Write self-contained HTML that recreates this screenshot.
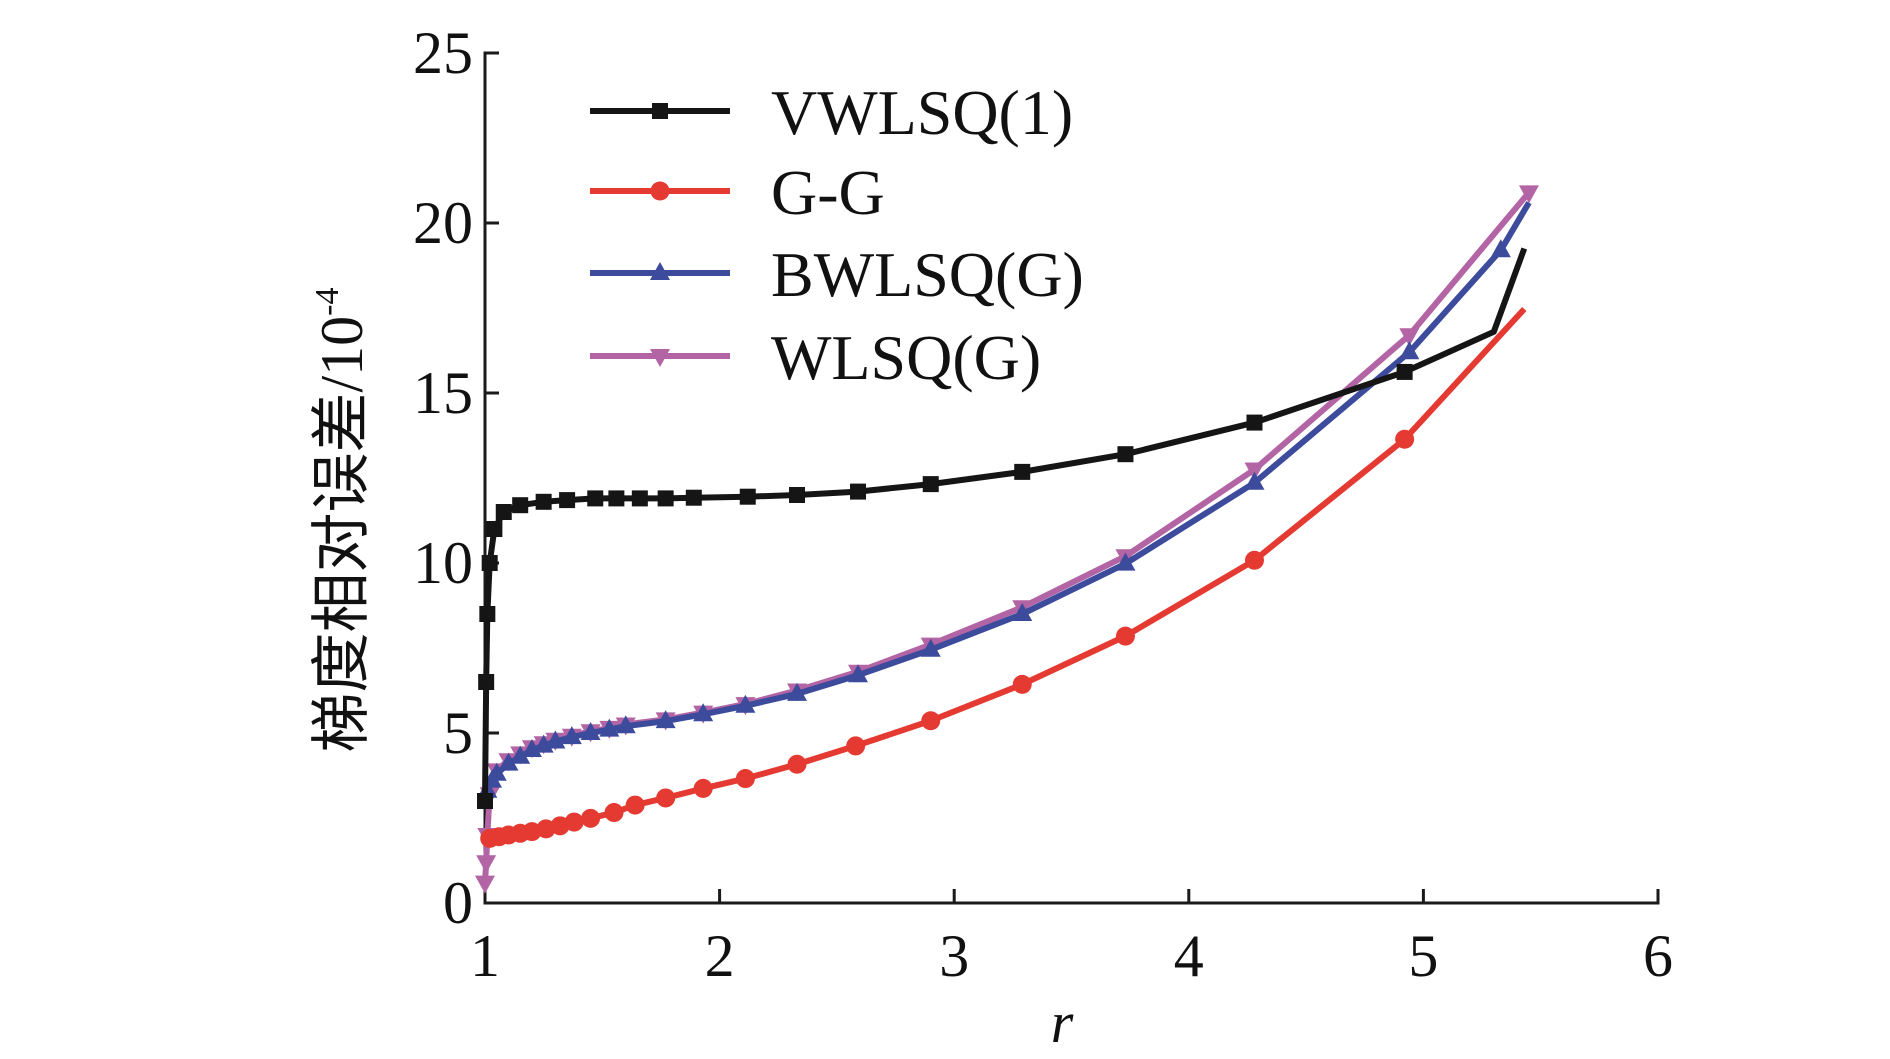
<!DOCTYPE html>
<html><head><meta charset="utf-8"><style>
html,body{margin:0;padding:0;background:#fff;}
svg{display:block;}
text{font-family:"Liberation Serif","Noto Serif CJK SC",serif;fill:#111;}
</style></head><body>
<svg id="chart" width="1890" height="1059" viewBox="0 0 1890 1059" xmlns="http://www.w3.org/2000/svg">
<g id="axes"></g>
<g id="series"></g>
<g id="legend"></g>
<text transform="translate(362,520) rotate(-90)" text-anchor="middle" font-size="60" style="font-family:'Liberation Serif','Noto Sans CJK SC',sans-serif">梯度相对误差/10<tspan dy="-24" font-size="34">-4</tspan></text>
<text x="1062" y="1042" text-anchor="middle" font-size="58" font-style="italic">r</text>
</svg>
<script>
const xTicks=[1,2,3,4,5,6];
const yTicks=[0,5,10,15,20,25];
const seriesNames=["VWLSQ(1)","G-G","BWLSQ(G)","WLSQ(G)"];
const vwX=[1.0,1.005,1.01,1.02,1.04,1.08,1.15,1.25,1.35,1.47,1.56,1.66,1.77,1.89,2.12,2.33,2.59,2.90,3.29,3.73,4.28,4.92,5.30,5.43];
const vwY=[3.0,6.5,8.5,10.0,11.0,11.5,11.7,11.8,11.85,11.9,11.9,11.9,11.9,11.92,11.95,12.0,12.1,12.32,12.68,13.2,14.13,15.62,16.8,19.25];
const ggX=[1.02,1.06,1.1,1.15,1.2,1.26,1.32,1.38,1.45,1.55,1.64,1.77,1.93,2.11,2.33,2.58,2.90,3.29,3.73,4.28,4.92,5.43];
const ggY=[1.9,1.95,2.0,2.05,2.1,2.18,2.27,2.38,2.49,2.66,2.88,3.09,3.37,3.66,4.08,4.62,5.36,6.43,7.85,10.08,13.64,17.47];
const bwX=[1.01,1.03,1.05,1.1,1.15,1.2,1.25,1.3,1.37,1.45,1.53,1.6,1.77,1.93,2.11,2.33,2.59,2.90,3.29,3.73,4.28,4.94,5.33,5.45];
const bwY=[3.3,3.6,3.8,4.1,4.3,4.5,4.63,4.75,4.88,5.0,5.1,5.2,5.35,5.55,5.8,6.15,6.7,7.45,8.5,9.98,12.36,16.2,19.2,20.6];
const wlX=[1.0,1.005,1.01,1.02,1.05,1.1,1.15,1.2,1.25,1.3,1.37,1.45,1.53,1.6,1.77,1.93,2.11,2.33,2.59,2.90,3.29,3.73,4.28,4.94,5.45];
const wlY=[0.6,1.2,2.0,3.2,3.9,4.2,4.4,4.58,4.7,4.8,4.92,5.05,5.15,5.25,5.4,5.6,5.85,6.25,6.8,7.6,8.7,10.2,12.75,16.7,20.9];

const NS="http://www.w3.org/2000/svg";
const X0=485,X1=1658,Y0=903,Y1=53;
function sx(v){return X0+(v-1)/(6-1)*(X1-X0);}
function sy(v){return Y0-(v-0)/(25-0)*(Y0-Y1);}
function mk(tag,attrs,parent){const e=document.createElementNS(NS,tag);for(const k in attrs)e.setAttribute(k,attrs[k]);parent.appendChild(e);return e;}
const axes=document.getElementById('axes');
let e=mk('path',{d:`M${X0+5},${Y1} H${X0} V${Y0} H${X1} V${Y0-14}`,fill:'none',stroke:'#1a1a1a','stroke-width':3},axes);


xTicks.forEach(t=>{
  const l=mk('line',{x1:sx(t),x2:sx(t),y1:Y0,y2:Y0-14,stroke:'#1a1a1a','stroke-width':3},axes);
  
  
  const tx=mk('text',{x:sx(t),y:Y0+73,'text-anchor':'middle','font-size':60},axes);
  
  
  tx.textContent=t;
});
yTicks.forEach(t=>{
  const l=mk('line',{x1:X0,x2:X0+14,y1:sy(t),y2:sy(t),stroke:'#1a1a1a','stroke-width':3},axes);
  
  
  const tx=mk('text',{x:X0-12,y:sy(t)+20,'text-anchor':'end','font-size':60},axes);
  
  
  tx.textContent=t;
});
function marker(type,x,y,color,parent){
  let m;
  if(type==='square') m=mk('rect',{x:x-8,y:y-8,width:16,height:16,fill:color},parent);
  else if(type==='circle') m=mk('circle',{cx:x,cy:y,r:9.5,fill:color},parent);
  else if(type==='up') m=mk('polygon',{points:`${x},${y-11} ${x-10},${y+7} ${x+10},${y+7}`,fill:color},parent);
  else m=mk('polygon',{points:`${x},${y+11} ${x-10},${y-7} ${x+10},${y-7}`,fill:color},parent);
  return m;
}
const series=document.getElementById('series');
const defs=[
 {xs:wlX,ys:wlY,c:'#b264a4',m:'down',n:'wlsq-g'},
 {xs:bwX,ys:bwY,c:'#3c4b9c',m:'up',n:'bwlsq-g'},
 {xs:ggX,ys:ggY,c:'#e53a32',m:'circle',n:'g-g'},
 {xs:vwX,ys:vwY,c:'#151515',m:'square',n:'vwlsq-1'}];
defs.forEach(s=>{
  const g=mk('g',{},series);
  
  
  const pts=s.xs.map((x,i)=>sx(x)+','+sy(s.ys[i])).join(' ');
  const pl=mk('polyline',{points:pts,fill:'none',stroke:s.c,'stroke-width':6,'stroke-linejoin':'round'},g);
  
  
  s.xs.forEach((x,i)=>{
    if(s.m==='square'&&i>=s.xs.length-2)return;
    if(i===s.xs.length-1&&s.m!=='down')return;
    const m=marker(s.m,sx(x),sy(s.ys[i]),s.c,g);
    
    
  });
});
const legend=document.getElementById('legend');
const legC=['#151515','#e53a32','#3c4b9c','#b264a4'],legM=['square','circle','up','down'],legY=[111,191,273,356];
seriesNames.forEach((n,i)=>{
  const g=mk('g',{},legend);
  
  
  mk('line',{x1:590,x2:730,y1:legY[i],y2:legY[i],stroke:legC[i],'stroke-width':6},g);
  marker(legM[i],660,legY[i],legC[i],g);
  const t=mk('text',{x:771,y:legY[i]+23,'font-size':64},g);
  t.textContent=n;
});
</script>
</body></html>
